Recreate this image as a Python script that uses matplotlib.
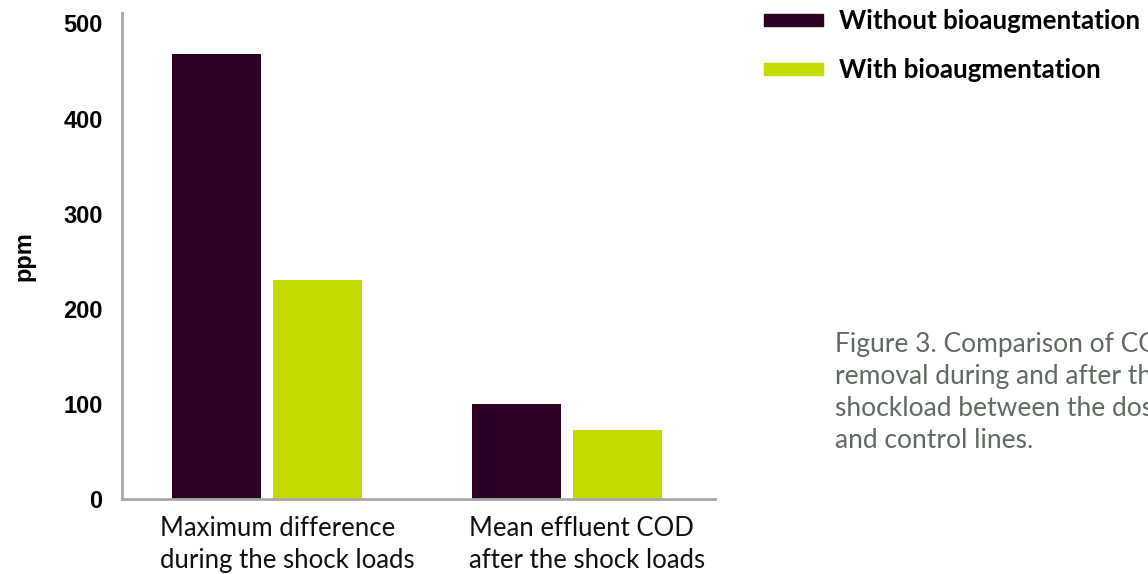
import numpy as np
import matplotlib.pyplot as plt
import matplotlib.transforms as mtransforms
from matplotlib.patches import Patch

# Data
categories = ['Maximum difference\nduring the shock loads',
              'Mean effluent COD\nafter the shock loads']
without_bio = [468, 100]
with_bio = [230, 72]
series_names = ['Without bioaugmentation', 'With bioaugmentation']
yticks = [0, 100, 200, 300, 400, 500]

dark = '#2e0023'
lime = '#c5db00'
axis_gray = '#a6a6a6'

fig = plt.figure(figsize=(11.48, 5.74), dpi=100)
ax = fig.add_axes([0.1063, 0.1307, 0.5165, 0.8467])

x = np.arange(len(categories))
w = 0.297
ax.bar(x - 0.167, without_bio, width=w, color=dark)
ax.bar(x + 0.167, with_bio, width=w, color=lime)

ax.set_xlim(-0.483, 1.493)
ax.set_ylim(0, 511)
ax.set_yticks(yticks)
ax.set_yticklabels([str(t) for t in yticks], fontsize=17, fontweight='bold',
                   family='Liberation Sans')
ax.set_xticks(x)
ax.set_xticklabels(categories, fontsize=18.5, family='Lato', color='#111111',
                   multialignment='left', linespacing=1.36)
ax.tick_params(axis='both', length=0)
ax.tick_params(axis='y', pad=14)
ax.tick_params(axis='x', pad=12)

# category labels sit a little right of the group centre
shift = mtransforms.ScaledTranslation(20 / 100, 0, fig.dpi_scale_trans)
for lab in ax.get_xticklabels():
    lab.set_transform(lab.get_transform() + shift)

for side in ['top', 'right']:
    ax.spines[side].set_visible(False)
for side in ['left', 'bottom']:
    ax.spines[side].set_color(axis_gray)
    ax.spines[side].set_linewidth(2)

ax.set_ylabel('ppm', fontsize=17, fontweight='bold', family='Liberation Sans',
              labelpad=20)

# Legend
handles = [Patch(color=dark), Patch(color=lime)]
leg = fig.legend(handles, series_names, loc='upper left',
                 bbox_to_anchor=(0.645, 1.024), frameon=False,
                 handlelength=2.3, handleheight=0.35, handletextpad=0.6,
                 labelspacing=0.95,
                 prop={'family': 'Lato', 'weight': 'bold', 'size': 18.6})

# Caption (runs past the right edge, as in the original)
fig.text(0.7275, 0.422,
         'Figure 3. Comparison of COD\nremoval during and after the\n'
         'shockload between the dosed\nand control lines.',
         fontsize=19, family='Lato', color='#5f6b60', va='top',
         linespacing=1.36)

fig.savefig('out.png', dpi=100)
